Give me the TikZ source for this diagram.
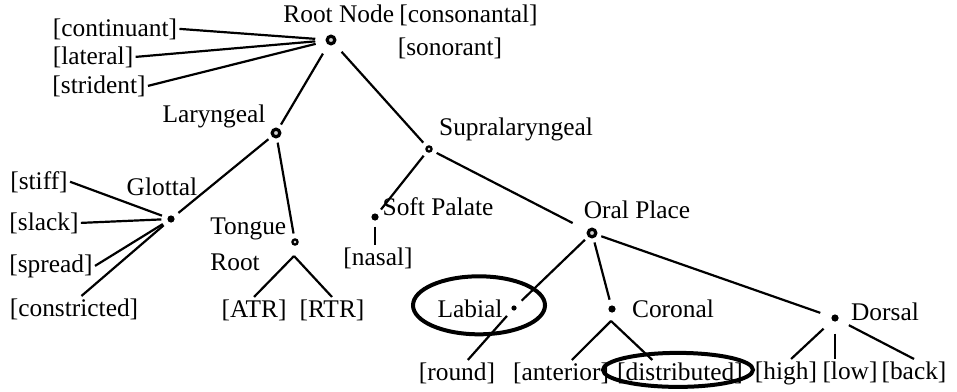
\documentclass[tikz,border=0pt]{standalone}
\usepackage{fontspec}
\setmainfont{Liberation Serif}
\begin{document}
\begin{tikzpicture}[x=0.5pt,y=-0.5pt,
    font=\fontsize{12.7}{15.2}\selectfont,
    feat/.style={inner sep=1pt,anchor=base},
    lbl/.style={inner sep=1pt,anchor=base},
    ring/.style={circle,draw=black,line width=1.6pt,fill=gray!35,inner sep=0pt,minimum size=3.8pt,outer sep=3pt},
    smallring/.style={ring,line width=1.1pt,minimum size=2.6pt},
    spot/.style={circle,fill=black,inner sep=0pt,minimum size=3.6pt,outer sep=3pt},
    link/.style={line width=1.1pt},
    loop/.style={line width=2pt}]
    \useasboundingbox (0,0) rectangle (957,391);

    % root and its features
    \node[ring,outer sep=6pt] (root) at (331,40) {};
    \node[lbl,anchor=base west] (root-lbl) at (281,22) {Root Node};
    \node[feat,anchor=base west] (cons) at (397,22) {[consonantal]};
    \node[feat] (son) at (450,55) {[sonorant]};
    \node[feat] (cont) at (115,36) {[continuant]};
    \node[feat] (lat) at (93,64) {[lateral]};
    \node[feat] (stri) at (99,93) {[strident]};

    % laryngeal side
    \node[ring] (lar) at (276,133) {};
    \node[lbl] (lar-lbl) at (214,122) {Laryngeal};
    \node[spot] (glot) at (171,219) {};
    \node[lbl] (glot-lbl) at (162,195) {Glottal};
    \node[feat] (stiff) at (39,189) {[stiff]};
    \node[feat] (slack) at (44,230) {[slack]};
    \node[feat] (spread) at (51,272) {[spread]};
    \node[feat] (constr) at (74,316) {[constricted]};
    \node[smallring] (tongue) at (295,242) {};
    \node[lbl,align=left,anchor=north west] (tongue-lbl) at (208,215) {Tongue\\[3pt]Root};
    \coordinate (tongue-fork) at (294,256);
    \node[feat] (atr) at (254,317) {[ATR]};
    \node[feat] (rtr) at (332,317) {[RTR]};

    % supralaryngeal side
    \node[smallring] (supra) at (429,149) {};
    \node[lbl] (supra-lbl) at (516,135) {Supralaryngeal};
    \node[spot] (soft) at (375,217) {};
    \node[lbl] (soft-lbl) at (438,215) {Soft Palate};
    \node[feat] (nasal) at (378,265) {[nasal]};
    \node[ring] (oral) at (592,233) {};
    \node[lbl] (oral-lbl) at (637,218) {Oral Place};

    % places
    \node[spot,minimum size=2.6pt,outer sep=4pt] (lab) at (514,308) {};
    \node[lbl] (lab-lbl) at (470,317) {Labial};
    \node[spot] (cor) at (612,309) {};
    \node[lbl] (cor-lbl) at (673,317) {Coronal};
    \coordinate (cor-fork) at (611,321);
    \node[spot,outer sep=6pt] (dor) at (835,318) {};
    \node[lbl] (dor-lbl) at (885,320) {Dorsal};
    \node[feat] (round) at (457,380) {[round]};
    \node[feat] (ant) at (561,380) {[anterior]};
    \node[feat] (dist) at (680,380) {[distributed]};
    \node[feat] (high) at (786,379) {[high]};
    \node[feat] (low) at (850,379) {[low]};
    \node[feat] (back) at (914,379) {[back]};

    \draw[loop] (lab-lbl.center) ++(9,-3) ellipse [x radius=33pt, y radius=14.5pt];
    \draw[loop] (dist.center) ++(-2,-3) ellipse [x radius=37.5pt, y radius=8.5pt];

    % connectors
    \draw[link] (cont.east) -- (root);
    \draw[link] (lat.east) -- (root);
    \draw[link] (stri.east) -- (root);
    \draw[link] (root) -- (lar);
    \draw[link] (root) -- (supra);
    \draw[link] (lar) -- (glot);
    \draw[link] (lar) -- (tongue);
    \draw[link] (stiff.east) -- (glot);
    \draw[link] (slack.east) -- (glot);
    \draw[link] (spread.east) -- (glot);
    \draw[link] (constr.60) -- (glot);
    \draw[link] (tongue-fork) -- (atr.north);
    \draw[link] (tongue-fork) -- (rtr.north);
    \draw[link] (supra) -- (soft);
    \draw[link] (soft) -- (soft |- nasal.north);
    \draw[link,shorten >=6pt] (supra) -- (oral);
    \draw[link] (oral) -- (lab);
    \draw[link] (oral) -- (cor);
    \draw[link] (oral) -- (dor);
    \draw[link] (lab) -- (round.50);
    \draw[link] (cor-fork) -- (ant.50);
    \draw[link] (cor-fork) -- (dist.155);
    \draw[link] (dor) -- (high.70);
    \draw[link] (dor) -- (dor |- low.north);
    \draw[link] (dor) -- (back.90);
\end{tikzpicture}
\end{document}
